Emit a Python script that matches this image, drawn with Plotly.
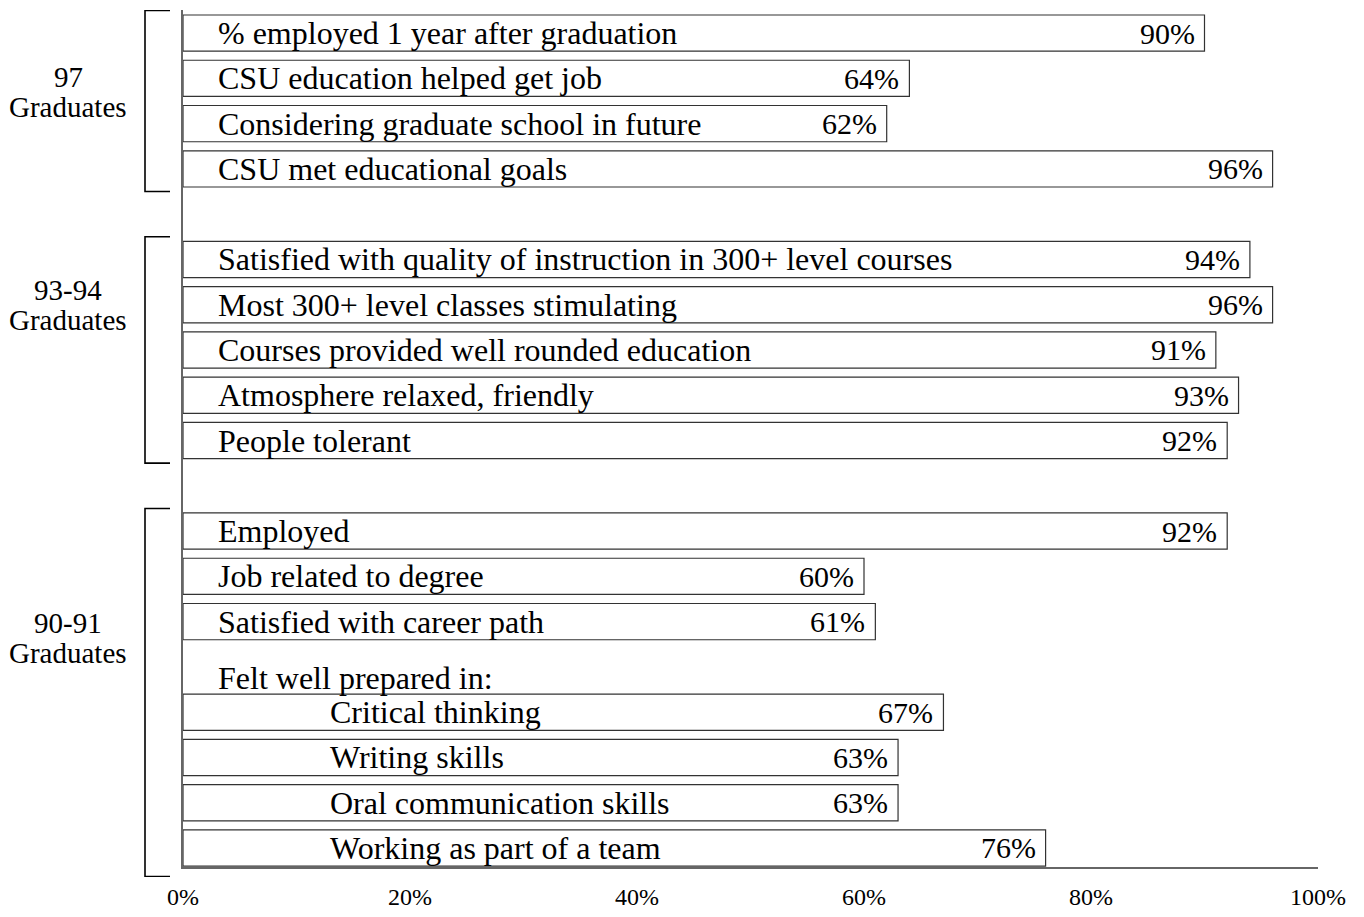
import plotly.graph_objects as go

# survey results
group_names = ["97", "93-94", "90-91"]
group_caption_rows = [1.31, 6.0, 13.37]   # row where each group caption sits

labels_97 = ["% employed 1 year after graduation",
             "CSU education helped get job",
             "Considering graduate school in future",
             "CSU met educational goals"]
values_97 = [90, 64, 62, 96]

labels_9394 = ["Satisfied with quality of instruction in 300+ level courses",
               "Most 300+ level classes stimulating",
               "Courses provided well rounded education",
               "Atmosphere relaxed, friendly",
               "People tolerant"]
values_9394 = [94, 96, 91, 93, 92]

labels_9091 = ["Employed", "Job related to degree", "Satisfied with career path"]
values_9091 = [92, 60, 61]

prepared_title = "Felt well prepared in:"
prepared_labels = ["Critical thinking", "Writing skills",
                   "Oral communication skills", "Working as part of a team"]
prepared_values = [67, 63, 63, 76]

x_ticks = [0, 20, 40, 60, 80, 100]

FONT = "Liberation Serif"
# the page body adds an 8px margin, so the figure is drawn 16px smaller
W, H = 1348, 901
ML, MR, MT, MB = 0, 38, 2, 32
AXIS_LEFT_PX = 175          # x of the value axis inside the plot area
AXIS_BOTTOM_PX = 859        # y of the category axis bottom in figure px
Y_TOP, Y_BOT = -0.51, 18.42

# lay rows out top to bottom: one blank row between groups, one for the sub-heading
rows = []          # (row, label, value, indent)
brackets = []      # (first row edge, last row edge)
r = 0
blocks = [[(labels_97, values_97, False)],
          [(labels_9394, values_9394, False)],
          [(labels_9091, values_9091, False), (prepared_labels, prepared_values, True)]]
subheads = []
for bi, block in enumerate(blocks):
    start = r
    for labs, vals, indent in block:
        if indent:
            subheads.append(r)
            r += 1
        for lab, val in zip(labs, vals):
            rows.append((r, lab, val, indent))
            r += 1
    brackets.append((start - 0.5, r - 0.5 + (0.13 if bi == len(blocks) - 1 else 0)))
    r += 1

fig = go.Figure()
fig.add_trace(go.Bar(
    y=[row[0] for row in rows],
    x=[row[2] for row in rows],
    orientation="h",
    width=0.8,
    marker=dict(color="white", line=dict(color="#333", width=1.2)),
    hoverinfo="skip",
    showlegend=False,
))

# left side: brackets and group captions on their own small axis
for (y0, y1) in brackets:
    fig.add_trace(go.Scatter(
        x=[162, 137, 137, 162], y=[y0, y0, y1, y1],
        mode="lines", line=dict(color="black", width=1.6),
        xaxis="x2", yaxis="y2", hoverinfo="skip", showlegend=False,
    ))

ann = []
for (row, lab, val, indent) in rows:
    ann.append(dict(x=0, y=row, xref="x", yref="y", text=lab, showarrow=False,
                    xanchor="left", xshift=145 if indent else 33,
                    font=dict(family=FONT, size=32, color="black")))
    ann.append(dict(x=val, y=row, xref="x", yref="y", text=f"{val}%", showarrow=False,
                    xanchor="right", xshift=-8,
                    font=dict(family=FONT, size=30, color="black")))
for row in subheads:
    ann.append(dict(x=0, y=row, xref="x", yref="y", text=prepared_title, showarrow=False,
                    xanchor="left", xshift=33, yshift=-11,
                    font=dict(family=FONT, size=32, color="black")))
for name, cy in zip(group_names, group_caption_rows):
    for txt, dy in [(name, 15), ("Graduates", -15)]:
        ann.append(dict(x=60, y=cy, xref="x2", yref="y2", text=txt, showarrow=False,
                        yshift=dy, font=dict(family=FONT, size=29, color="black")))

plot_w = W - ML - MR
plot_h = H - MT - MB
px_per_row = (AXIS_BOTTOM_PX - MT) / (Y_BOT - Y_TOP)
y2_bot = Y_TOP + plot_h / px_per_row

fig.update_layout(
    width=W, height=H,
    margin=dict(l=ML, r=MR, t=MT, b=MB, autoexpand=False),
    plot_bgcolor="white", paper_bgcolor="white",
    font=dict(family=FONT, color="black"),
    annotations=ann,
    xaxis=dict(domain=[AXIS_LEFT_PX / plot_w, 1], range=[0, 100],
               tickvals=x_ticks, ticktext=[f"{t}%" for t in x_ticks],
               tickfont=dict(family=FONT, size=24, color="black"),
               showline=True, linecolor="#666", linewidth=1.5, automargin=False,
               showgrid=False, zeroline=False, ticks="", ticklabelstandoff=7),
    yaxis=dict(domain=[(H - MB - AXIS_BOTTOM_PX) / plot_h, 1], range=[Y_BOT, Y_TOP],
               showticklabels=False, showline=True, linecolor="#666", linewidth=1.5,
               showgrid=False, zeroline=False, ticks="", automargin=False),
    xaxis2=dict(domain=[0, 164 / plot_w], range=[0, 164], visible=False,
                anchor="y2", automargin=False),
    yaxis2=dict(domain=[0, 1], range=[y2_bot, Y_TOP], visible=False,
                anchor="x2", automargin=False),
)

fig.write_html("out.html")
